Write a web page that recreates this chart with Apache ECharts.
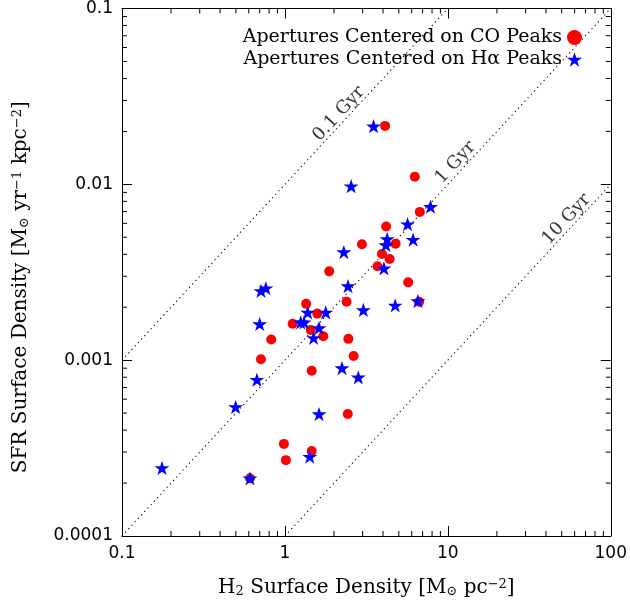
<!DOCTYPE html>
<html>
<head>
<meta charset="utf-8">
<script src="https://cdn.jsdelivr.net/npm/echarts@6/dist/echarts.min.js"></script>
<style>html,body{margin:0;padding:0;background:#fff}#c{width:630px;height:603px}</style>
</head>
<body>
<div id="c"></div>
<script>
// ---- data ----
const seriesNames = ['Apertures Centered on CO Peaks', 'Apertures Centered on H\u03b1 Peaks'];
const coGas = [4.12,6.27,6.73,4.18,2.97,4.78,3.94,4.39,3.70,1.87,5.71,2.39,6.67,1.35,1.58,1.115,1.44,1.72,0.824,2.45,2.64,0.713,1.46,2.43,0.986,1.46,1.014,0.610];
const coSFR = [0.0215,0.01105,0.00697,0.00576,0.00456,0.00460,0.00402,0.00376,0.00342,0.00320,0.00277,0.00215,0.00215,0.00209,0.00184,0.00161,0.001486,0.001369,0.001312,0.001322,0.001057,0.001013,0.000871,0.000494,0.000334,0.000304,0.000270,0.000213];
const haGas = [3.50,2.55,7.83,5.66,4.24,6.12,4.17,2.30,4.05,2.44,0.713,0.764,4.75,6.55,3.03,1.38,1.78,0.700,1.25,1.31,1.62,1.50,2.24,2.82,0.673,0.498,1.62,1.42,0.176,0.610];
const haSFR = [0.0214,0.00976,0.00746,0.00594,0.00489,0.00485,0.00452,0.00412,0.00333,0.00264,0.00248,0.00257,0.00205,0.00217,0.00193,0.00187,0.00187,0.001606,0.001642,0.001642,0.001525,0.001340,0.000902,0.000799,0.000775,0.000542,0.000494,0.000283,0.000244,0.000213];

// constant depletion-time lines (endpoints) and their label anchors
const gyrNames = ['0.1 Gyr', '1 Gyr', '10 Gyr'];
const gyrLineX = [[0.1, 10], [0.1, 100], [1, 100]];
const gyrLineY = [[0.001, 0.1], [0.0001, 0.1], [0.0001, 0.01]];
const gyrLabelX = [2.145, 11.15, 53.5];
const gyrLabelY = [0.02519, 0.01329, 0.00633];

// axes
const xTickValues = [0.1, 1, 10, 100];
const xTickLabels = ['0.1', '1', '10', '100'];
const yTickValues = [0.0001, 0.001, 0.01, 0.1];
const yTickLabels = ['0.0001', '0.001', '0.01', '0.1'];
const xMinorTicks = [0.2,0.3,0.4,0.5,0.6,0.7,0.8,0.9,2,3,4,5,6,7,8,9,20,30,40,50,60,70,80,90];
const yMinorTicks = [0.0002,0.0003,0.0004,0.0005,0.0006,0.0007,0.0008,0.0009,0.002,0.003,0.004,0.005,0.006,0.007,0.008,0.009,0.02,0.03,0.04,0.05,0.06,0.07,0.08,0.09];

// ---- chart ----
const STAR = 'path://M0,-10 L2.245,-3.09 L9.511,-3.09 L3.633,1.18 L5.878,8.09 L0,3.82 L-5.878,8.09 L-3.633,1.18 L-9.511,-3.09 L-2.245,-3.09 Z';
const SERIF = 'DejaVu Serif';
const SANS = 'DejaVu Sans';

function labelFor(values, labels) {
  return function (v) {
    let best = 0, bd = Infinity;
    values.forEach((t, i) => { const d = Math.abs(Math.log10(t) - Math.log10(v)); if (d < bd) { bd = d; best = i; } });
    return labels[best];
  };
}

const axisCommon = {
  type: 'log', logBase: 10,
  axisLine: { show: true, onZero: false, lineStyle: { color: '#000', width: 1 } },
  axisTick: { show: true, inside: true, length: 10, lineStyle: { color: '#000', width: 1 } },
  splitLine: { show: false },
  minorTick: { show: false }
};

const nameRich = {
  n: { fontFamily: SERIF, fontSize: 20, color: '#000' },
  sub: { fontFamily: SERIF, fontSize: 13, color: '#000', verticalAlign: 'bottom' },
  sup: { fontFamily: SERIF, fontSize: 13, color: '#000', verticalAlign: 'top' }
};

function minorTickSeries(vals, dim) {
  return {
    type: 'custom', coordinateSystem: 'cartesian2d', silent: true, clip: false, z: 10,
    data: vals.map(v => dim === 'x' ? [v, 0.01] : [1, v]),
    renderItem: function (params, api) {
      const p = api.coord([api.value(0), api.value(1)]);
      const cs = params.coordSys;
      const st = { stroke: '#000', lineWidth: 1 };
      if (dim === 'x') {
        const b = cs.y + cs.height, t = cs.y;
        return { type: 'group', children: [
          { type: 'line', shape: { x1: p[0], y1: b, x2: p[0], y2: b - 5 }, style: st },
          { type: 'line', shape: { x1: p[0], y1: t, x2: p[0], y2: t + 5 }, style: st }
        ] };
      } else {
        const l = cs.x, r = cs.x + cs.width;
        return { type: 'group', children: [
          { type: 'line', shape: { x1: l, y1: p[1], x2: l + 5, y2: p[1] }, style: st },
          { type: 'line', shape: { x1: r, y1: p[1], x2: r - 5, y2: p[1] }, style: st }
        ] };
      }
    }
  };
}

const chart = echarts.init(document.getElementById('c'), null, { renderer: 'canvas' });

const series = [];
gyrNames.forEach((n, i) => {
  series.push({
    type: 'line', name: n + ' line', silent: true, showSymbol: false, symbol: 'none',
    data: [[gyrLineX[i][0], gyrLineY[i][0]], [gyrLineX[i][1], gyrLineY[i][1]]],
    lineStyle: { color: '#000', width: 1.1, type: [1.2, 3.5] }, z: 1
  });
});
series.push({
  type: 'scatter', name: seriesNames[0], symbol: 'circle', symbolSize: 10,
  itemStyle: { color: '#ff0000', opacity: 1 },
  data: coGas.map((x, i) => [x, coSFR[i]]), z: 3
});
series.push({
  type: 'scatter', name: seriesNames[1], symbol: STAR, symbolSize: 15, symbolKeepAspect: true,
  itemStyle: { color: '#0000ff', opacity: 1 },
  data: haGas.map((x, i) => [x, haSFR[i]]), z: 4
});
series.push({
  type: 'scatter', name: 'gyr labels', symbolSize: 0, silent: true, z: 5,
  data: gyrNames.map((n, i) => ({ value: [gyrLabelX[i], gyrLabelY[i]], name: n })),
  label: {
    show: true, position: 'inside', align: 'center', verticalAlign: 'middle',
    formatter: '{b}', rotate: 47.5,
    fontFamily: SERIF, fontSize: 18, color: '#000'
  }
});
series.push(minorTickSeries(xMinorTicks, 'x'));
series.push(minorTickSeries(yMinorTicks, 'y'));

chart.setOption({
  animation: false,
  backgroundColor: '#fff',
  grid: { left: 122, right: 19, top: 4, bottom: 66, containLabel: false },
  legend: {
    orient: 'vertical', right: 48, top: 28, padding: 0, itemGap: 3, align: 'right',
    itemWidth: 15, itemHeight: 15,
    textStyle: { fontFamily: SERIF, fontSize: 19, color: '#000' },
    data: [
      { name: seriesNames[0], icon: 'circle', itemStyle: { color: '#ff0000' } },
      { name: seriesNames[1], icon: STAR, itemStyle: { color: '#0000ff' } }
    ],
    selectedMode: false
  },
  xAxis: [
    Object.assign({}, axisCommon, {
      min: 0.1, max: 100, position: 'bottom',
      axisLabel: { show: true, margin: 9, fontFamily: SANS, fontSize: 17, color: '#000', formatter: labelFor(xTickValues, xTickLabels) },
      name: '{n|H}{sub|2}{n| Surface Density [M}{sub|\u2299}{n| pc}{sup|\u22122}{n|]}',
      nameLocation: 'middle', nameGap: 42,
      nameTextStyle: { rich: nameRich }
    }),
    Object.assign({}, axisCommon, {
      min: 0.1, max: 100, position: 'top', axisLabel: { show: false }
    })
  ],
  yAxis: [
    Object.assign({}, axisCommon, {
      min: 0.0001, max: 0.1, position: 'left',
      axisLabel: { show: true, margin: 9, fontFamily: SANS, fontSize: 17, color: '#000', formatter: labelFor(yTickValues, yTickLabels) },
      name: '{n|SFR Surface Density [M}{sub|\u2299}{n| yr}{sup|\u22121}{n| kpc}{sup|\u22122}{n|]}',
      nameLocation: 'middle', nameGap: 91,
      nameTextStyle: { rich: nameRich, padding: [0, 30, 0, 0] }
    }),
    Object.assign({}, axisCommon, {
      min: 0.0001, max: 0.1, position: 'right', axisLabel: { show: false }
    })
  ],
  series: series
});
</script>
</body>
</html>
